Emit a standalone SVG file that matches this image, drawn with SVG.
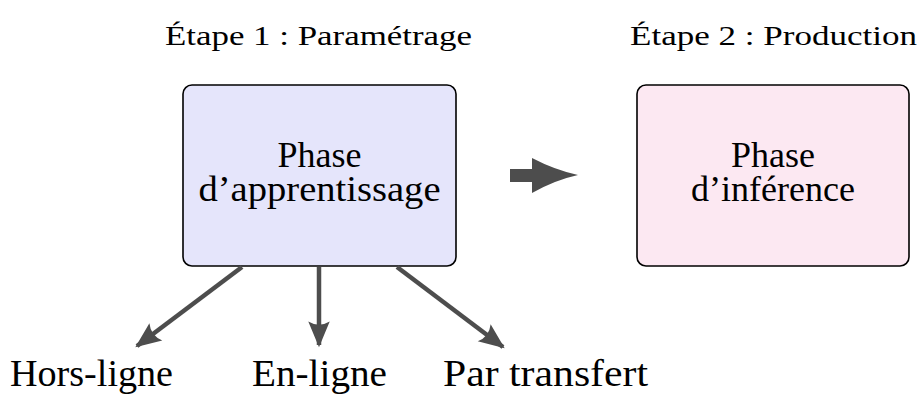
<svg xmlns="http://www.w3.org/2000/svg" width="920" height="395" viewBox="0 0 920 395">
<style>
text{font-family:Tinos,"Times New Roman",Times,"Liberation Serif","DejaVu Serif","Noto Serif",serif;fill:#000;}
.t{font-size:28px;}
.b{font-size:36px;text-anchor:middle;}
.l{font-size:37px;}
.box{stroke:#000;stroke-width:1.6;}
.conn{stroke:#4d4d4d;stroke-width:4.5;fill:none;}
</style>
<defs>
<marker id="ah" markerUnits="userSpaceOnUse" markerWidth="30" markerHeight="30" viewBox="-24 -12 28 24" refX="0" refY="0" orient="auto">
<path d="M2,0 L-22,-10 Q-16,0 -22,10 Z" fill="#4d4d4d"/>
</marker>
</defs>
<g id="title1"><text class="t" x="165" y="45" textLength="307" lengthAdjust="spacingAndGlyphs">Étape 1 : Paramétrage</text></g>
<g id="title2"><text class="t" x="630" y="45" textLength="287" lengthAdjust="spacingAndGlyphs">Étape 2 : Production</text></g>
<g id="apprentissage">
<rect class="box" x="183" y="85" width="273" height="181" rx="9" fill="#e5e5fb"/>
<text class="b"><tspan x="319.5" y="167">Phase</tspan><tspan x="319.5" y="201" textLength="242" lengthAdjust="spacingAndGlyphs">d’apprentissage</tspan></text>
</g>
<g id="inference">
<rect class="box" x="637" y="85" width="272" height="181" rx="9" fill="#fce8f2"/>
<text class="b"><tspan x="773" y="167">Phase</tspan><tspan x="773" y="201">d’inférence</tspan></text>
</g>
<g id="horsligne"><text class="l" x="10" y="386" textLength="163" lengthAdjust="spacingAndGlyphs">Hors-ligne</text></g>
<g id="enligne"><text class="l" x="252" y="386" textLength="135" lengthAdjust="spacingAndGlyphs">En-ligne</text></g>
<g id="partransfert"><text class="l" x="443" y="386" textLength="205" lengthAdjust="spacingAndGlyphs">Par transfert</text></g>
<g id="connectors">
<path class="conn" d="M242,267 L137,346" marker-end="url(#ah)"/>
<path class="conn" d="M319,267 L319,345" marker-end="url(#ah)"/>
<path class="conn" d="M397,267 L503,347" marker-end="url(#ah)"/>
<path d="M510,169 L532,169 L532,158 Q555,170 578,175 Q555,180 532,193 L532,182 L510,182 Z" fill="#4d4d4d"/>
</g>
</svg>
